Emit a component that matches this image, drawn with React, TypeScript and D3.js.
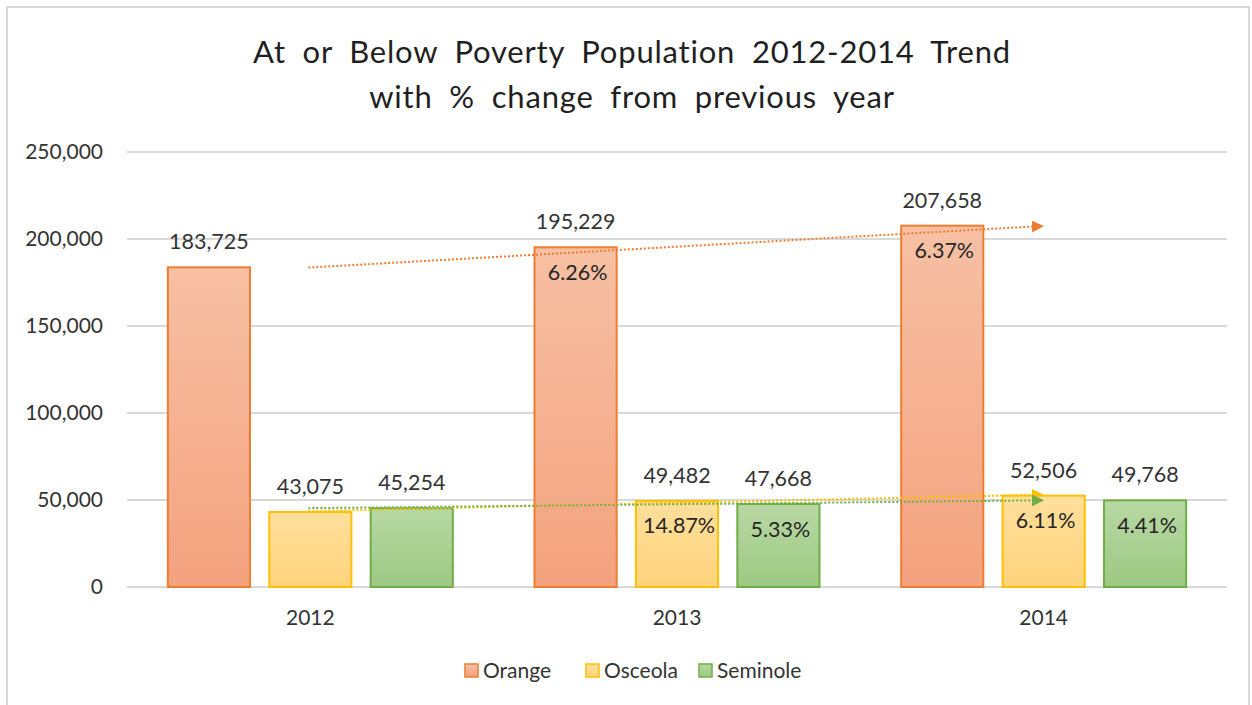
import React from "react";
import * as d3 from "d3";

const years = ["2012", "2013", "2014"];
const seriesNames = ["Orange", "Osceola", "Seminole"];
const orangeValues = [183725, 195229, 207658];
const osceolaValues = [43075, 49482, 52506];
const seminoleValues = [45254, 47668, 49768];
const orangePct = [null, "6.26%", "6.37%"];
const osceolaPct = [null, "14.87%", "6.11%"];
const seminolePct = [null, "5.33%", "4.41%"];
const yTicks = [0, 50000, 100000, 150000, 200000, 250000];
const titleLines = ["At or Below Poverty Population 2012-2014 Trend", "with % change from previous year"];

const seriesValues = [orangeValues, osceolaValues, seminoleValues];
const seriesPct = [orangePct, osceolaPct, seminolePct];
const strokes = ["#ED7D31", "#FFC000", "#70AD47"];
const gradTop = ["#F7C0A4", "#FFDF9C", "#B8D8A4"];
const gradBottom = ["#F4A27E", "#FFD37C", "#9DC982"];

const W = 1252;
const H = 705;
const FONT = "Lato, 'Open Sans', sans-serif";
const TXT = "#333333";

function linFit(vals: number[]) {
  const xs = vals.map((_, i) => i + 1);
  const mx = d3.mean(xs)!;
  const my = d3.mean(vals)!;
  const num = d3.sum(xs.map((x, i) => (x - mx) * (vals[i] - my)));
  const den = d3.sum(xs.map((x) => (x - mx) ** 2));
  const b = num / den;
  const a = my - b * mx;
  return (x: number) => a + b * x;
}

export default function App() {
  const x0 = d3.scaleBand<string>().domain(years).range([127, 1227]).paddingInner(0.2228).paddingOuter(0.1114);
  const x1 = d3.scaleBand<string>().domain(seriesNames).range([0, x0.bandwidth()]).paddingInner(0.19);
  const y = d3.scaleLinear().domain([0, 250000]).range([587, 152]);
  const fmt = d3.format(",");
  const center = (yr: string) => x0(yr)! + x0.bandwidth() / 2;

  return (
    <svg width={W} height={H} style={{ position: "absolute", left: 0, top: 0, background: "#fff" }}>
      <defs>
        {seriesNames.map((s, i) => (
          <linearGradient key={s} id={`g${i}`} x1="0" y1="0" x2="0" y2="1">
            <stop offset="0" stopColor={gradTop[i]} />
            <stop offset="1" stopColor={gradBottom[i]} />
          </linearGradient>
        ))}
        {seriesNames.map((s, i) => (
          <marker key={s} id={`m${i}`} viewBox="0 0 10 10" refX="9" refY="5" markerWidth="6" markerHeight="6" orient="auto" markerUnits="strokeWidth">
            <path d="M0,0 L10,5 L0,10 Z" fill={strokes[i]} />
          </marker>
        ))}
      </defs>
      <rect x={7} y={7} width={1242} height={710} fill="#fff" stroke="#D9D9D9" strokeWidth={2} />
      {titleLines.map((t, i) => (
        <text key={i} x={632} y={63 + i * 45} textAnchor="middle" fontFamily={FONT} fontSize={31} fill="#1f1f1f" letterSpacing={0.8} wordSpacing={8}>
          {t}
        </text>
      ))}
      {yTicks.map((t) => (
        <g key={t}>
          <line x1={127} x2={1227} y1={y(t)} y2={y(t)} stroke="#D9D9D9" strokeWidth={2} />
          <text x={103} y={y(t)} dy="0.35em" textAnchor="end" fontFamily={FONT} fontSize={21} fill={TXT}>
            {fmt(t)}
          </text>
        </g>
      ))}
      {years.map((yr) => (
        <text key={yr} x={center(yr)} y={625} textAnchor="middle" fontFamily={FONT} fontSize={21} fill={TXT}>
          {yr}
        </text>
      ))}
      {years.map((yr, yi) =>
        seriesNames.map((s, si) => {
          const v = seriesValues[si][yi];
          const bx = x0(yr)! + x1(s)!;
          const bw = x1.bandwidth();
          const pct = seriesPct[si][yi];
          return (
            <g key={yr + s}>
              <rect x={bx} y={y(v)} width={bw} height={y(0) - y(v)} fill={`url(#g${si})`} stroke={strokes[si]} strokeWidth={2} />
              <text x={bx + bw / 2} y={y(v) - 18} textAnchor="middle" fontFamily={FONT} fontSize={21.5} fill={TXT}>
                {fmt(v)}
              </text>
              {pct && (
                <text x={bx + bw / 2 + 2} y={y(v) + 25} dy="0.35em" textAnchor="middle" fontFamily={FONT} fontSize={21.5} fill="#262626">
                  {pct}
                </text>
              )}
            </g>
          );
        })
      )}
      {seriesNames.map((s, si) => {
        const f = linFit(seriesValues[si]);
        return (
          <line
            key={s}
            x1={center(years[0]) - 2}
            y1={y(f(1))}
            x2={center(years[2]) - 1}
            y2={y(f(3))}
            stroke={strokes[si]}
            strokeWidth={2}
            strokeDasharray="2 2"
            markerEnd={`url(#m${si})`}
          />
        );
      })}
      {seriesNames.map((s, i) => {
        const lx = [465, 586, 699][i];
        return (
          <g key={s}>
            <rect x={lx} y={664} width={13} height={13} fill={`url(#g${i})`} stroke={strokes[i]} strokeWidth={1.5} />
            <text x={lx + 18} y={671} dy="0.35em" fontFamily={FONT} fontSize={21} fill={TXT}>
              {s}
            </text>
          </g>
        );
      })}
    </svg>
  );
}
